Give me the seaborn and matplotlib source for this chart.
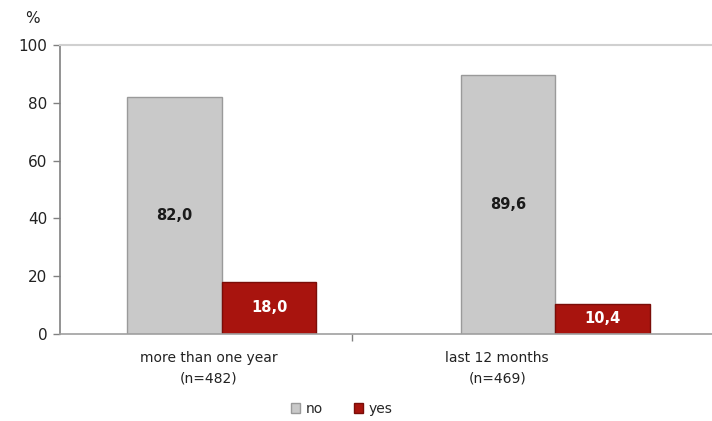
import pandas as pd
import seaborn as sns
import matplotlib.pyplot as plt

# Chart data
periods = ["more than one year\n(n=482)", "last 12 months\n(n=469)"]
answers = ["no", "yes"]
no_values = [82.0, 89.6]
yes_values = [18.0, 10.4]

colors = {"no": "#c9c9c9", "yes": "#a8140e"}
edges = {"no": "#9a9a9a", "yes": "#7a0d08"}
text_colors = {"no": "#1a1a1a", "yes": "white"}

# Long-form table for seaborn
rows = []
for i, p in enumerate(periods):
    rows.append({"period": p, "answer": "no", "value": no_values[i]})
    rows.append({"period": p, "answer": "yes", "value": yes_values[i]})
data = pd.DataFrame(rows)

sns.set_style("white")
plt.rcParams['font.family'] = ['DejaVu Sans']

fig = plt.figure(figsize=(7.12, 4.21), dpi=100)
ax = fig.add_axes([0.084, 0.207, 0.916, 0.686])

sns.barplot(data=data, x="period", y="value", hue="answer", order=periods,
            hue_order=answers, palette=colors, width=0.566, saturation=1,
            legend=False, ax=ax)

# edges and value labels
for container, ans in zip(ax.containers, answers):
    for bar in container:
        bar.set_edgecolor(edges[ans])
        bar.set_linewidth(1.0)
    ax.bar_label(container, labels=[f"{v:.1f}".replace(".", ",") for v in container.datavalues],
                 label_type="center", color=text_colors[ans], fontsize=10.5, fontweight="bold")

ax.set_ylim(0, 100)
ax.set_xlim(-0.486, 1.47)
ax.set_yticks([0, 20, 40, 60, 80, 100])
ax.tick_params(axis="y", which="major", left=True, length=5, width=1, color="#808080",
               labelsize=11, labelcolor="#222222", pad=4)

# category labels centred in their areas, separator tick between them
ax.set_xticks([-0.04, 0.826])
ax.set_xticklabels(periods, fontsize=10, color="#222222", linespacing=1.6)
ax.tick_params(axis="x", which="major", length=0, pad=12)
ax.set_xticks([0.39], minor=True)
ax.tick_params(axis="x", which="minor", bottom=True, length=5, width=1, color="#808080")
ax.set_xlabel("")
ax.set_ylabel("")

ax.spines["right"].set_visible(False)
ax.spines["top"].set_color("#d0d0d0")
ax.spines["top"].set_linewidth(1.5)
ax.spines["left"].set_color("#808080")
ax.spines["left"].set_linewidth(1.2)
ax.spines["bottom"].set_color("#a0a0a0")
ax.spines["bottom"].set_linewidth(1.2)

fig.text(0.045, 0.955, "%", fontsize=11, color="#222222", ha="center", va="center")

# legend
handles = [plt.Rectangle((0, 0), 1, 1, facecolor=colors[a], edgecolor=edges[a]) for a in answers]
fig.legend(handles, answers, loc="center", bbox_to_anchor=(0.48, 0.028), ncol=2, frameon=False,
           fontsize=10, handlelength=0.7, handleheight=0.7, handletextpad=0.4, columnspacing=2.2)

fig.savefig("out.png", dpi=100)
